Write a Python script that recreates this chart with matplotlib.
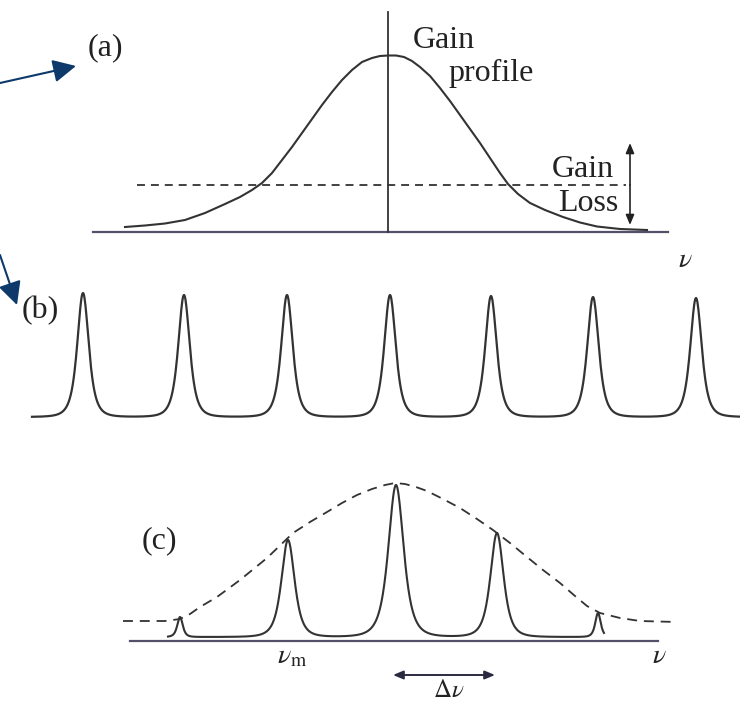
import numpy as np
import matplotlib.pyplot as plt
from matplotlib.patches import FancyArrowPatch

plt.rcParams['mathtext.fontset'] = 'stix'
SERIF = 'Liberation Serif'
INK = '#333333'
AXIS = '#55506a'
NAVY = '#0d3a6b'

# (a) gain profile (x, y in image pixels)
gain_x = [125, 145, 165, 185, 205, 225, 240, 252, 262, 272, 282, 292, 302,
          312, 322, 332, 342, 352, 362, 372, 380, 388, 396, 404, 412, 420,
          430, 440, 450, 460, 470, 480, 490, 500, 508, 518, 530, 545, 563,
          580, 597, 620, 647]
gain_y = [227, 225.5, 223.5, 220, 213, 204, 197, 190, 183, 173, 160, 147, 133,
          119, 105, 92, 80, 70, 62, 58, 56, 55.5, 55.5, 57, 61, 67,
          76, 88, 101, 115, 129, 143, 158, 173, 184, 194, 203, 210, 217,
          222.5, 226.5, 229, 230]
loss_level = 185
axis_a = 232

# (b) longitudinal cavity modes
mode_x = [83, 184, 287, 390, 491, 593, 696]
mode_top = [293, 295, 295, 295, 296, 297, 298]
mode_base = 417

# (c) laser output modes under the gain envelope
out_x = [180, 288, 396, 497, 598]
out_top = [617, 540, 485, 533, 613]
out_w = [5, 12, 14, 12, 5]
out_base = 637
env_x = [123, 165, 180, 190, 200, 217, 240, 267, 293, 310, 327, 342, 357,
         372, 385, 395, 405, 416, 427, 443, 460, 477, 493, 510, 527, 543,
         560, 575, 587, 600, 620, 640, 677]
env_y = [621, 621, 619, 614, 607, 597, 580, 558, 533, 522, 512, 503, 495,
         489, 485, 483, 484, 487, 491, 499, 508, 519, 530, 543, 557, 570,
         583, 596, 606, 613, 618, 621, 622]
axis_c = 641


def mode_trace(x, centers, tops, base, widths):
    y = np.full_like(x, float(base))
    for c, t, w in zip(centers, tops, widths):
        y -= (base - t) / (1 + ((x - c) / w) ** 2) ** 2
    return y


def arrow(ax, p0, p1, style, color, lw, **kw):
    ax.add_patch(FancyArrowPatch(p0, p1, arrowstyle=style, color=color,
                                 lw=lw, mutation_scale=1, shrinkA=0, shrinkB=0, **kw))


fig = plt.figure(figsize=(7.4, 7.03), dpi=100)
ax = fig.add_axes([0, 0, 1, 1])
ax.set_xlim(0, 740)
ax.set_ylim(703, 0)
ax.axis('off')

txt = dict(family=SERIF, fontsize=23, color='#222222', va='baseline', ha='left')

# ---- (a)
ax.plot([93, 668], [axis_a, axis_a], color=AXIS, lw=1.6)
ax.plot([388, 388], [12, axis_a], color=INK, lw=1.3)
ax.plot(gain_x, gain_y, color=INK, lw=1.5)
ax.plot([137, 626], [loss_level, loss_level], color=INK, lw=1.3, dashes=(4.4, 3.3))
arrow(ax, (630, loss_level), (630, 143), '-|>,head_length=6,head_width=2.5', '#222222', 1.2)
arrow(ax, (630, loss_level), (630, 225), '-|>,head_length=6,head_width=2.5', '#222222', 1.2)
ax.text(413, 48, 'Gain', **txt)
ax.text(448, 81, 'profile', **txt)
ax.text(552, 177, 'Gain', **txt)
ax.text(558, 211, 'Loss', **txt)
ax.text(88, 55, '(a)', **txt)
ax.text(678, 267, r'$\nu$', fontsize=20, color='#222222', va='baseline')

# ---- (b)
xb = np.linspace(32, 740, 1500)
ax.plot(xb, mode_trace(xb, mode_x, mode_top, mode_base, [10.5] * len(mode_x)),
        color=INK, lw=1.6)
ax.text(22, 318, '(b)', **txt)

# ---- (c)
ax.plot([130, 658], [axis_c, axis_c], color=AXIS, lw=1.6)
xc = np.linspace(168, 604, 1200)
ax.plot(xc, mode_trace(xc, out_x, out_top, out_base, out_w), color=INK, lw=1.5)
ax.plot(env_x, env_y, color=INK, lw=1.3, dashes=(5.5, 3.8))
ax.text(142, 548, '(c)', **txt)
ax.text(652, 663, r'$\nu$', fontsize=20, color='#222222', va='baseline')
ax.text(277, 663, r'$\nu_{\rm m}$', fontsize=20, color='#222222', va='baseline')
arrow(ax, (393, 675), (495, 675), '<|-|>,head_length=6,head_width=2.5', '#2a2a40', 1.4)
ax.text(433, 702, r'$\Delta\nu$', fontsize=18, color='#222222', va='bottom')

# ---- navy pointer arrows
arrow(ax, (0, 83), (76, 66), '-|>,head_length=14,head_width=7', NAVY, 1.5)
arrow(ax, (0, 255), (17, 305), '-|>,head_length=14,head_width=7', NAVY, 1.5)

fig.savefig('out.png', dpi=100)
